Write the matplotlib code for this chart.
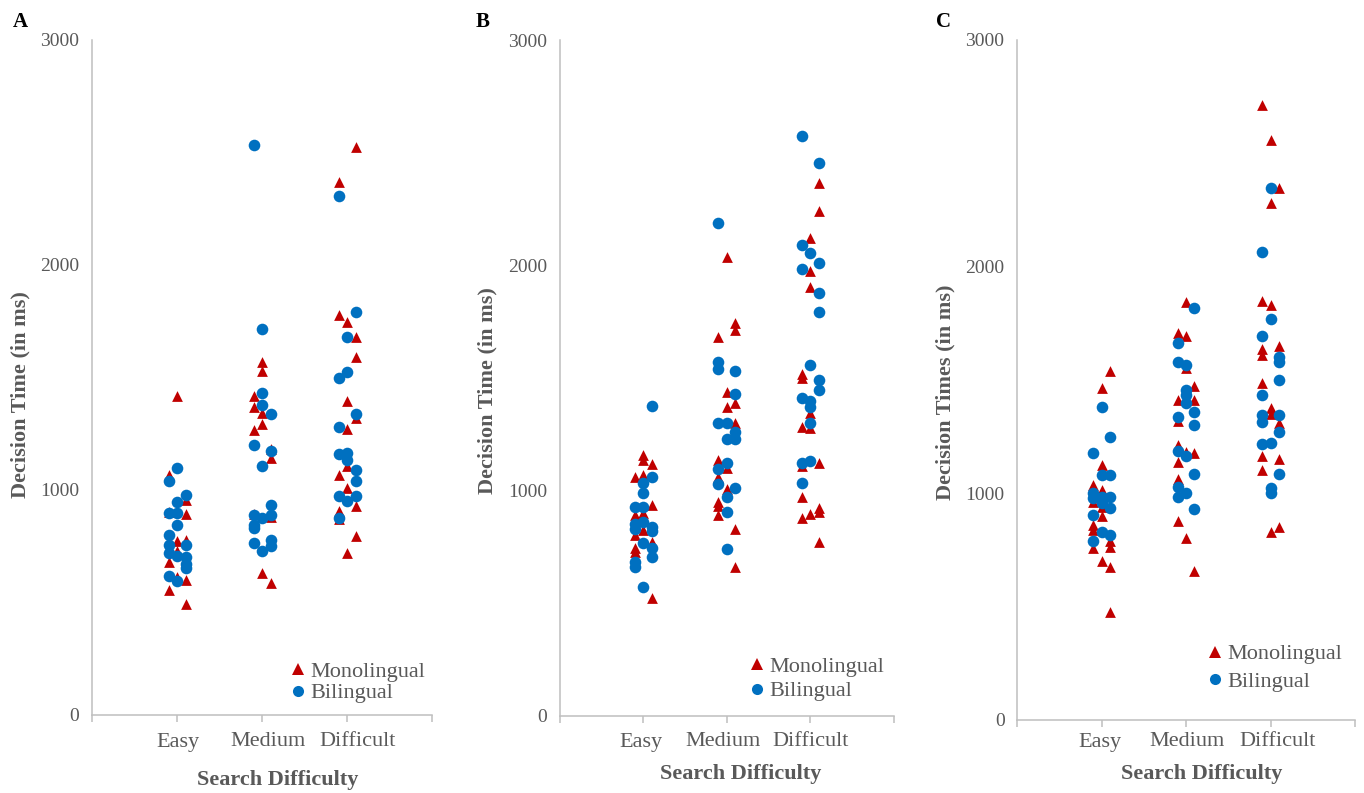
import matplotlib
matplotlib.use("Agg")
import matplotlib.pyplot as plt
from matplotlib.lines import Line2D
from matplotlib.transforms import blended_transform_factory
import numpy as np

# ---- data: decision times (ms); lanes give the jitter column (-1, 0, +1) ----
CATEGORIES = ["Easy", "Medium", "Difficult"]
Y_TICKS = [0, 1000, 2000, 3000]

# Panel A
A_MONO_EASY = [1415, 1065, 955, 900, 890, 770, 775, 725, 680, 600, 610, 555, 490]
A_MONO_EASY_LANE = [0, -1, 1, -1, 1, 0, 1, 0, -1, 1, 0, -1, 1]
A_BI_EASY = [1096, 1037, 978, 944, 896, 896, 844, 800, 752, 752, 719, 705, 700, 670, 650, 618, 593]
A_BI_EASY_LANE = [0, -1, 1, 0, -1, 0, 0, -1, 1, -1, -1, 0, 1, 1, 1, -1, 0]
A_MONO_MED = [1570, 1530, 1415, 1366, 1341, 1293, 1267, 1180, 1141, 890, 880, 630, 585]
A_MONO_MED_LANE = [0, 0, -1, -1, 0, 0, -1, 1, 1, -1, 1, 0, 1]
A_BI_MED = [2533, 1714, 1430, 1378, 1336, 1200, 1173, 1107, 933, 886, 886, 874, 844, 830, 775, 763, 748, 726]
A_BI_MED_LANE = [-1, 0, 0, 0, 1, -1, 1, 0, 1, -1, 1, 0, -1, -1, 1, -1, 1, 0]
A_MONO_DIFF = [2526, 2370, 1778, 1744, 1679, 1590, 1396, 1320, 1270, 1104, 1067, 1007, 926, 907, 870, 793, 719]
A_MONO_DIFF_LANE = [1, -1, -1, 0, 1, 1, 0, 1, 0, 0, -1, 0, 1, -1, -1, 1, 0]
A_BI_DIFF = [2308, 1788, 1679, 1523, 1496, 1338, 1277, 1160, 1163, 1130, 1086, 1037, 970, 970, 948, 874]
A_BI_DIFF_LANE = [-1, 1, 0, 0, -1, 1, -1, -1, 0, 0, 1, 1, -1, 1, 0, -1]

# Panel B
B_MONO_EASY = [1158, 1136, 1118, 1062, 1070, 937, 892, 900, 803, 825, 770, 744, 730, 522]
B_MONO_EASY_LANE = [0, 0, 1, -1, 0, 1, -1, 0, -1, 0, 1, -1, -1, 1]
B_BI_EASY = [1377, 1059, 1033, 988, 929, 929, 862, 851, 830, 840, 820, 767, 744, 704, 685, 663, 574]
B_BI_EASY_LANE = [1, 1, 0, 0, -1, 0, 0, -1, -1, 1, 1, 0, 1, 1, -1, -1, 0]
B_MONO_MED = [2036, 1746, 1713, 1684, 1440, 1373, 1391, 1302, 1136, 1100, 1062, 1006, 951, 930, 892, 830, 660]
B_MONO_MED_LANE = [0, 1, 1, -1, 0, 0, 1, 1, -1, 0, -1, 0, -1, -1, -1, 1, 1]
B_BI_MED = [2190, 1573, 1539, 1531, 1429, 1299, 1302, 1262, 1228, 1228, 1121, 1095, 1028, 1010, 973, 907, 740]
B_BI_MED_LANE = [-1, -1, -1, 1, 1, -1, 0, 1, 0, 1, 0, -1, -1, 1, 0, 0, 0]
B_MONO_DIFF = [2367, 2243, 2123, 1977, 1906, 1518, 1500, 1343, 1280, 1284, 1110, 1121, 970, 925, 905, 897, 877, 774]
B_MONO_DIFF_LANE = [1, 1, 0, 0, 0, -1, -1, 0, 0, -1, -1, 1, -1, 1, 1, 0, -1, 1]
B_BI_DIFF = [2574, 2456, 2090, 2053, 2009, 1983, 1876, 1795, 1558, 1491, 1447, 1410, 1398, 1373, 1299, 1121, 1133, 1033]
B_BI_DIFF_LANE = [-1, 1, -1, 0, 1, -1, 1, 1, 0, 1, 1, -1, 0, 0, 0, -1, 0, -1]

# Panel C
C_MONO_EASY = [1541, 1463, 1125, 1037, 1015, 960, 940, 901, 860, 838, 790, 760, 765, 703, 676, 478]
C_MONO_EASY_LANE = [1, 0, 0, -1, 0, -1, 0, 0, -1, -1, 1, -1, 1, 0, 1, 1]
C_BI_EASY = [1382, 1250, 1176, 1081, 1081, 1000, 980, 985, 985, 956, 934, 904, 831, 816, 791]
C_BI_EASY_LANE = [0, 1, -1, 0, 1, -1, -1, 0, 1, 0, 1, -1, 0, 1, -1]
C_MONO_MED = [1845, 1709, 1694, 1555, 1473, 1412, 1412, 1320, 1213, 1184, 1176, 1140, 1062, 879, 801, 659]
C_MONO_MED_LANE = [0, -1, 0, 0, 1, -1, 1, -1, -1, 0, 1, -1, -1, -1, 0, 1]
C_BI_MED = [1816, 1664, 1581, 1566, 1456, 1434, 1397, 1360, 1338, 1301, 1188, 1165, 1084, 1029, 1000, 982, 931]
C_BI_MED_LANE = [1, -1, -1, 0, 0, 0, 0, 1, -1, 1, -1, 0, 1, -1, 0, -1, 1]
C_MONO_DIFF = [2713, 2558, 2345, 2279, 1848, 1831, 1650, 1635, 1610, 1485, 1375, 1350, 1309, 1165, 1150, 1103, 853, 831]
C_MONO_DIFF_LANE = [-1, 0, 1, 0, -1, 0, 1, -1, -1, -1, 0, 0, 1, -1, 1, -1, 1, 0]
C_BI_DIFF = [2348, 2066, 1768, 1695, 1603, 1580, 1500, 1434, 1345, 1316, 1345, 1272, 1217, 1220, 1084, 1022, 1000]
C_BI_DIFF_LANE = [0, -1, 0, -1, 1, 1, 1, -1, -1, -1, 1, 1, -1, 0, 1, 0, 0]

# ---- styling ----
RED = "#C00000"
BLUE = "#0070C0"
GREY_TXT = "#595959"
GREY_AX = "#BFBFBF"
SERIF = ["Liberation Serif", "DejaVu Serif"]
JITTER = 0.1

plt.rcParams["font.family"] = SERIF

W, H = 1364, 793
fig = plt.figure(figsize=(W / 100, H / 100), dpi=100)


def px_axes(left, right, top, bottom):
    return fig.add_axes([left / W, (H - bottom) / H, (right - left) / W, (bottom - top) / H])


def scatter_group(ax, cat_index, values, lanes, marker, color, size):
    xs = cat_index + 1 + JITTER * np.asarray(lanes, dtype=float)
    ax.scatter(xs, values, marker=marker, s=size, color=color, linewidths=0, zorder=3)


def style_axes(ax, label_x, ylabel, ylabel_pos, xlabel_pos, letter, letter_pos,
               legend_anchor, legend_spacing):
    ax.set_xlim(0, 4)
    ax.set_ylim(0, 3000)
    for side in ("top", "right"):
        ax.spines[side].set_visible(False)
    for side in ("left", "bottom"):
        ax.spines[side].set_color(GREY_AX)
        ax.spines[side].set_linewidth(1.1)
    ax.set_xticks([0, 1, 2, 3, 4])
    ax.set_xticklabels([])
    ax.tick_params(axis="x", length=5, width=1.1, color=GREY_AX, direction="out")
    ax.set_yticks(Y_TICKS)
    ax.set_yticklabels([str(v) for v in Y_TICKS])
    ax.tick_params(axis="y", length=0, pad=9, labelsize=14, labelcolor=GREY_TXT)
    cat_trans = blended_transform_factory(ax.transData, fig.transFigure)
    for name, xp in zip(CATEGORIES, label_x):
        ax.text(xp, 1 - 742 / H, name, transform=cat_trans, ha="center",
                va="center", fontsize=16, color=GREY_TXT)
    fig.text(ylabel_pos[0] / W, 1 - ylabel_pos[1] / H, ylabel, rotation=90,
             ha="center", va="center", fontsize=16, fontweight="bold", color=GREY_TXT)
    fig.text(xlabel_pos[0] / W, 1 - xlabel_pos[1] / H, "Search Difficulty",
             ha="center", va="center", fontsize=16, fontweight="bold", color=GREY_TXT)
    fig.text(letter_pos[0] / W, 1 - letter_pos[1] / H, letter, ha="center",
             va="center", fontsize=15, fontweight="bold", color="black")
    handles = [
        Line2D([], [], linestyle="none", marker="^", markersize=8, color=RED,
               markeredgewidth=0),
        Line2D([], [], linestyle="none", marker="o", markersize=8, color=BLUE,
               markeredgewidth=0),
    ]
    leg = ax.legend(handles, ["Monolingual", "Bilingual"], loc="upper left",
                    bbox_to_anchor=legend_anchor, frameon=False, fontsize=16,
                    handlelength=0.5, handletextpad=0.3, borderpad=0,
                    borderaxespad=0, labelspacing=legend_spacing)
    for t in leg.get_texts():
        t.set_color(GREY_TXT)


PANELS = [
    dict(box=(92, 432, 40, 714.5),
         groups=[(A_MONO_EASY, A_MONO_EASY_LANE, A_BI_EASY, A_BI_EASY_LANE),
                 (A_MONO_MED, A_MONO_MED_LANE, A_BI_MED, A_BI_MED_LANE),
                 (A_MONO_DIFF, A_MONO_DIFF_LANE, A_BI_DIFF, A_BI_DIFF_LANE)],
         label_x=[1.01, 2.07, 3.12], ylabel="Decision Time (in ms)",
         ylabel_pos=(20, 395), xlabel_pos=(278, 780), letter="A", letter_pos=(20, 22),
         legend_anchor=(0.59, 0.079), legend_spacing=0.05),
    dict(box=(560, 893.6, 40, 716),
         groups=[(B_MONO_EASY, B_MONO_EASY_LANE, B_BI_EASY, B_BI_EASY_LANE),
                 (B_MONO_MED, B_MONO_MED_LANE, B_BI_MED, B_BI_MED_LANE),
                 (B_MONO_DIFF, B_MONO_DIFF_LANE, B_BI_DIFF, B_BI_DIFF_LANE)],
         label_x=[0.97, 1.95, 3.0], ylabel="Decision Time (in ms)",
         ylabel_pos=(487, 391), xlabel_pos=(741, 774), letter="B", letter_pos=(483, 22),
         legend_anchor=(0.575, 0.088), legend_spacing=0.17),
    dict(box=(1017, 1355, 40, 720),
         groups=[(C_MONO_EASY, C_MONO_EASY_LANE, C_BI_EASY, C_BI_EASY_LANE),
                 (C_MONO_MED, C_MONO_MED_LANE, C_BI_MED, C_BI_MED_LANE),
                 (C_MONO_DIFF, C_MONO_DIFF_LANE, C_BI_DIFF, C_BI_DIFF_LANE)],
         label_x=[0.98, 2.01, 3.08], ylabel="Decision Times (in ms)",
         ylabel_pos=(945, 392), xlabel_pos=(1202, 774), letter="C", letter_pos=(943, 22),
         legend_anchor=(0.57, 0.112), legend_spacing=0.3),
]

for p in PANELS:
    ax = px_axes(*p["box"])
    for ci, (mono, mono_lane, bi, bi_lane) in enumerate(p["groups"]):
        scatter_group(ax, ci, mono, mono_lane, "^", RED, 60)
    for ci, (mono, mono_lane, bi, bi_lane) in enumerate(p["groups"]):
        scatter_group(ax, ci, bi, bi_lane, "o", BLUE, 70)
    style_axes(ax, p["label_x"], p["ylabel"], p["ylabel_pos"], p["xlabel_pos"],
               p["letter"], p["letter_pos"], p["legend_anchor"], p["legend_spacing"])

fig.savefig("out.png", dpi=100, facecolor="white")
